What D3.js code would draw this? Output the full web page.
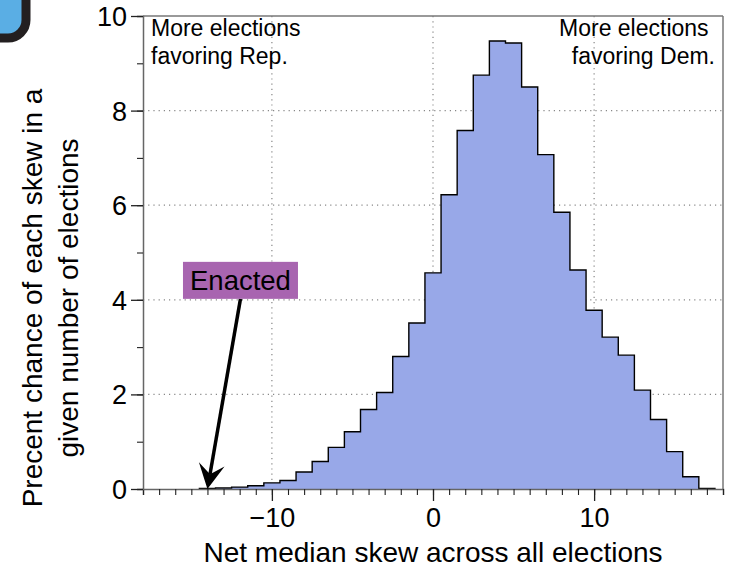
<!DOCTYPE html>
<html>
<head>
<meta charset="utf-8">
<script src="https://cdn.jsdelivr.net/npm/d3@7"></script>
<style>
  body { margin: 0; background: #fff; }
  svg { display: block; font-family: "Liberation Sans", Arial, Helvetica, sans-serif; }
</style>
</head>
<body>
<div id="chart"></div>
<script>
// histogram bins (centre of each 1-wide bin) and percent chance
const binCenters = [-14, -13, -12, -11, -10, -9, -8, -7, -6, -5, -4, -3, -2, -1, 0,
  1, 2, 3, 4, 5, 6, 7, 8, 9, 10, 11, 12, 13, 14, 15, 16, 17];
const binValues = [0.01, 0.02, 0.04, 0.07, 0.13, 0.18, 0.36, 0.58, 0.88, 1.21, 1.68, 2.04, 2.80, 3.51, 4.57,
  6.22, 7.58, 8.75, 9.47, 9.43, 8.50, 7.07, 5.85, 4.63, 3.78, 3.21, 2.83, 2.09, 1.47, 0.79, 0.26, 0.01];

const xMajorTicks = [-10, 0, 10];
const yMajorTicks = [0, 2, 4, 6, 8, 10];
const yGridLines = [2, 4, 6, 8];

const enactedValue = -14;
const leftNote = ['More elections', 'favoring Rep.'];
const rightNote = ['More elections ', 'favoring Dem.'];
const xTitle = 'Net median skew across all elections';
const yTitle = ['Precent chance of each skew in a', 'given number of elections'];

const W = 733, H = 576;
const margin = { top: 16, right: 10, bottom: 87, left: 143 };
const width = W - margin.left - margin.right;
const height = H - margin.top - margin.bottom;
const font = '"Liberation Sans", Arial, Helvetica, sans-serif';

const svg = d3.select('#chart').append('svg')
  .attr('width', W)
  .attr('height', H);

// logo corner (cut off at top-left)
svg.append('rect')
  .attr('x', -50).attr('y', -50)
  .attr('width', 76).attr('height', 88)
  .attr('rx', 18)
  .attr('fill', '#5aaee4')
  .attr('stroke', '#231f20')
  .attr('stroke-width', 9);

const g = svg.append('g')
  .attr('transform', 'translate(' + margin.left + ',' + margin.top + ')');

const x = d3.scaleLinear().domain([-18, 18]).range([0, width]);
const y = d3.scaleLinear().domain([0, 10]).range([height, 0]);

// dotted grid
g.append('g').selectAll('line')
  .data(xMajorTicks)
  .join('line')
  .attr('x1', d => x(d)).attr('x2', d => x(d))
  .attr('y1', 0).attr('y2', height)
  .attr('stroke', '#888')
  .attr('stroke-width', 1.2)
  .attr('stroke-dasharray', '1.2,4');

g.append('g').selectAll('line')
  .data(yGridLines)
  .join('line')
  .attr('x1', 0).attr('x2', width)
  .attr('y1', d => y(d)).attr('y2', d => y(d))
  .attr('stroke', '#888')
  .attr('stroke-width', 1.2)
  .attr('stroke-dasharray', '1.2,4');

// histogram as a stepped area
const steps = [];
binCenters.forEach((c, i) => {
  steps.push([c - 0.5, binValues[i]]);
  steps.push([c + 0.5, binValues[i]]);
});

const area = d3.area()
  .x(d => x(d[0]))
  .y0(y(0))
  .y1(d => y(d[1]));

const line = d3.line()
  .x(d => x(d[0]))
  .y(d => y(d[1]));

g.append('path')
  .datum(steps)
  .attr('fill', '#98a8e8')
  .attr('d', area);

g.append('path')
  .datum([[steps[0][0], 0]].concat(steps).concat([[steps[steps.length - 1][0], 0]]))
  .attr('fill', 'none')
  .attr('stroke', '#000')
  .attr('stroke-width', 1.4)
  .attr('d', line);

// frame
g.append('line').attr('x1', 0).attr('x2', width).attr('y1', 0).attr('y2', 0)
  .attr('stroke', '#777').attr('stroke-width', 1.5);
g.append('line').attr('x1', width).attr('x2', width).attr('y1', 0).attr('y2', height)
  .attr('stroke', '#777').attr('stroke-width', 1.5);

// x axis: minor ticks each unit, long ticks on majors
const xAxis = g.append('g').attr('transform', 'translate(0,' + height + ')');
xAxis.call(d3.axisBottom(x).tickValues(d3.range(-18, 19)).tickSize(6).tickFormat(''));
xAxis.select('.domain').attr('stroke', '#666').attr('stroke-width', 1.5);
xAxis.selectAll('.tick line').attr('stroke', '#222').attr('stroke-width', 1.1);

const xMajor = g.append('g').attr('transform', 'translate(0,' + height + ')')
  .call(d3.axisBottom(x).tickValues(xMajorTicks).tickSize(12).tickFormat(d => d < 0 ? '\u2212' + Math.abs(d) : d));
xMajor.select('.domain').remove();
xMajor.selectAll('.tick line').attr('stroke', '#222').attr('stroke-width', 1.3);
xMajor.selectAll('.tick text')
  .attr('y', 38).attr('dy', 0)
  .attr('fill', '#000')
  .style('font-size', '27px')
  .style('font-family', font);

// y axis
const yAxis = g.append('g');
yAxis.call(d3.axisLeft(y).tickValues(d3.range(0, 11)).tickSize(6).tickFormat(''));
yAxis.select('.domain').attr('stroke', '#666').attr('stroke-width', 1.5);
yAxis.selectAll('.tick line').attr('stroke', '#222').attr('stroke-width', 1.1);

const yMajor = g.append('g')
  .call(d3.axisLeft(y).tickValues(yMajorTicks).tickSize(12));
yMajor.select('.domain').remove();
yMajor.selectAll('.tick line').attr('stroke', '#222').attr('stroke-width', 1.3);
yMajor.selectAll('.tick text')
  .attr('x', -16).attr('dy', '0.35em')
  .attr('fill', '#000')
  .style('font-size', '27px')
  .style('font-family', font);

// corner notes
const noteLeft = g.append('text')
  .style('font-size', '23px');
leftNote.forEach((t, i) => {
  noteLeft.append('tspan').attr('x', 8).attr('y', 20 + i * 28).text(t);
});
const noteRight = g.append('text')
  .attr('text-anchor', 'end')
  .style('font-size', '23px')
  .style('white-space', 'pre');
rightNote.forEach((t, i) => {
  noteRight.append('tspan').attr('x', width - 8).attr('y', 20 + i * 28).text(t);
});

// Enacted annotation
const boxW = 115, boxH = 37;
const boxCx = x(-11.95), boxBottom = y(4.02);
const tip = [x(enactedValue), y(0)];
const start = [boxCx, boxBottom];
const dx = tip[0] - start[0], dy = tip[1] - start[1];
const len = Math.sqrt(dx * dx + dy * dy);
const u = [dx / len, dy / len], n = [u[1], -u[0]];
const headL = 25, headW = 13, notch = 15;
const back = [tip[0] - u[0] * headL, tip[1] - u[1] * headL];
const notchPt = [tip[0] - u[0] * notch, tip[1] - u[1] * notch];

g.append('line')
  .attr('x1', start[0]).attr('y1', start[1])
  .attr('x2', notchPt[0]).attr('y2', notchPt[1])
  .attr('stroke', '#000').attr('stroke-width', 3.5);

g.append('path')
  .attr('d', 'M' + tip + 'L' + [back[0] + n[0] * headW, back[1] + n[1] * headW] +
    'L' + notchPt + 'L' + [back[0] - n[0] * headW, back[1] - n[1] * headW] + 'Z')
  .attr('fill', '#000');

g.append('rect')
  .attr('x', boxCx - boxW / 2).attr('y', boxBottom - boxH)
  .attr('width', boxW).attr('height', boxH)
  .attr('fill', '#a865b0');

g.append('text')
  .attr('x', boxCx).attr('y', boxBottom - 9)
  .attr('text-anchor', 'middle')
  .style('font-size', '27.5px')
  .text('Enacted');

// axis titles
svg.append('text')
  .attr('x', margin.left + width / 2).attr('y', 562)
  .attr('text-anchor', 'middle')
  .style('font-size', '28px')
  .text(xTitle);

const yt = svg.append('text')
  .attr('transform', 'translate(0,298) rotate(-90)')
  .attr('text-anchor', 'middle')
  .style('font-size', '28px');
yTitle.forEach((t, i) => {
  yt.append('tspan').attr('x', 0).attr('y', 42 + i * 36).text(t);
});
</script>
</body>
</html>
